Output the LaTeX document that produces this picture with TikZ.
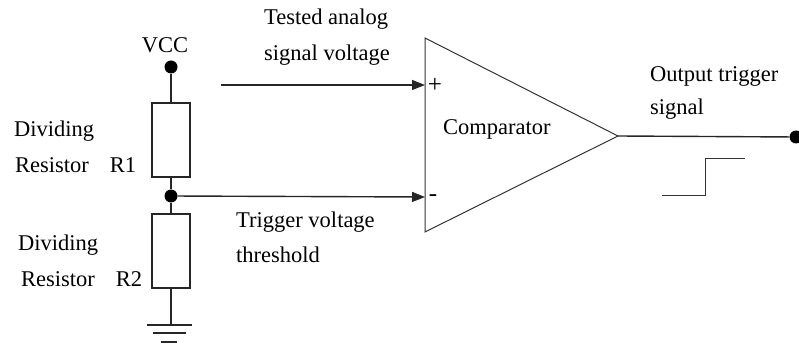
\documentclass[tikz,border=0pt]{standalone}
\usepackage{fontspec}
\setmainfont{Liberation Serif}
\usetikzlibrary{arrows.meta}
\tikzset{
  wire/.style={line width=1.4pt, black!85},
  sig/.style={wire, -{Triangle[length=13pt,width=10pt]}},
  res/.style={draw, line width=1.4pt, black!85, rectangle, minimum width=38pt, minimum height=74pt, inner sep=0pt},
  dot/.style={circle, fill=black, inner sep=0pt, minimum size=13pt},
  lbl/.style={font=\fontsize{22.5}{26}\selectfont, inner sep=0pt, anchor=base west},
  sign/.style={font=\fontsize{25}{28}\selectfont, inner sep=0pt},
  thin/.style={line width=1pt, black!80},
}
\begin{document}
\begin{tikzpicture}[x=1pt,y=-1pt]
\useasboundingbox (0,0) rectangle (799,347);
% divider
\node[dot] (vcc) at (171,67) {};
\node[lbl, anchor=base] (vcclbl) at (165,53) {VCC};
\node[res] (r1) at (171,140) {};
\node[dot] (mid) at (171,196) {};
\node[res] (r2) at (171,251) {};
\coordinate (gnd) at (171,325);
\draw[wire] (vcc) -- (r1.north);
\draw[wire] (r1.south) -- (mid);
\draw[wire] (mid) -- (r2.north);
\draw[wire] (r2.south) -- (gnd);
\draw[wire] (147,325) -- (192,325);
\draw[wire] (153,333) -- (186,333);
\draw[wire] (161,342) -- (177,342);
% comparator
\coordinate (ctop) at (425,38);
\coordinate (cbot) at (425,232);
\coordinate (cout) at (618,136);
\draw[thin] (ctop) -- (cout) -- (cbot) -- cycle;
\coordinate (inp) at (425,85);
\coordinate (inm) at (425,197);
\coordinate (sigstart) at (221,85);
\draw[sig] (sigstart) -- (inp);
\draw[sig] (mid) -- (inm);
\node[sign] (plus) at (435,85) {+};
\node[sign] (minus) at (433,198) {-};
\node[lbl] (comp) at (443,135) {Comparator};
% output
\node[dot] (outdot) at (796,137) {};
\draw[wire] (cout) -- (outdot);
\draw[thin] (662,196) -- (705,196) -- (705,159) -- (745,159);
% labels
\node[lbl] (t1) at (264,25) {Tested analog};
\node[lbl] (t2) at (264,61) {signal voltage};
\node[lbl] (t3) at (236,227) {Trigger voltage};
\node[lbl] (t4) at (236,262) {threshold};
\node[lbl] (t5) at (650,82) {Output trigger};
\node[lbl] (t6) at (650,115) {signal};
\node[lbl] (d1) at (14,137) {Dividing};
\node[lbl] (d2) at (15,173) {Resistor\hspace{21pt}R1};
\node[lbl] (d3) at (18,250) {Dividing};
\node[lbl] (d4) at (21,286) {Resistor\hspace{21pt}R2};
\end{tikzpicture}
\end{document}
